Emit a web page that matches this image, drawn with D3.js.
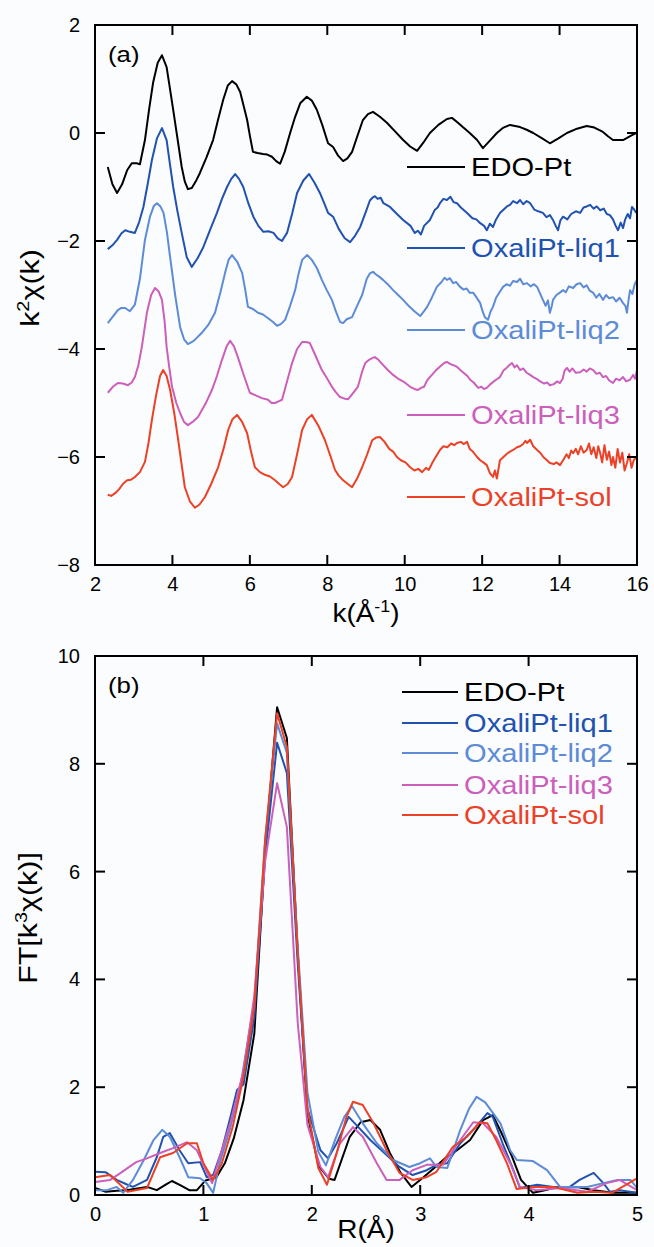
<!DOCTYPE html>
<html>
<head>
<meta charset="utf-8">
<script src="https://cdn.jsdelivr.net/npm/d3@7"></script>
<style>
  body { margin: 0; background: #fbfcfe; }
  svg { display: block; font-family: "Liberation Sans", Arial, sans-serif; }
</style>
</head>
<body>
<svg id="chart" width="654" height="1247"></svg>
<script>
// series names and colours
var names = ["EDO-Pt", "OxaliPt-liq1", "OxaliPt-liq2", "OxaliPt-liq3", "OxaliPt-sol"];
var colors = ["#000000", "#2152b0", "#5d8bd6", "#cc5fbb", "#ec4126"];

// panel (a): k (1/Å) and k^2 chi(k), offset curves
var exafsEdo = [[2.33,-0.63],[2.45,-0.95],[2.57,-1.11],[2.7,-0.95],[2.83,-0.69],[2.95,-0.56],[3.08,-0.56],[3.16,-0.58],[3.29,-0.13],[3.4,0.45],[3.5,0.93],[3.62,1.3],[3.73,1.44],[3.85,1.22],[3.93,0.85],[4.02,0.43],[4.13,-0.1],[4.24,-0.63],[4.32,-0.9],[4.4,-1.04],[4.5,-1.02],[4.6,-0.9],[4.71,-0.74],[4.88,-0.45],[5.05,-0.13],[5.18,0.25],[5.31,0.61],[5.43,0.88],[5.54,0.96],[5.65,0.9],[5.75,0.76],[5.84,0.5],[5.93,0.24],[6.0,-0.05],[6.08,-0.35],[6.2,-0.37],[6.34,-0.39],[6.45,-0.4],[6.57,-0.44],[6.68,-0.52],[6.78,-0.57],[6.9,-0.35],[7.04,0.0],[7.17,0.3],[7.3,0.55],[7.47,0.67],[7.6,0.6],[7.73,0.43],[7.87,0.15],[8.02,-0.19],[8.15,-0.26],[8.28,-0.42],[8.41,-0.52],[8.52,-0.47],[8.64,-0.35],[8.78,-0.05],[8.92,0.24],[9.05,0.35],[9.18,0.39],[9.36,0.3],[9.54,0.19],[9.75,0.03],[9.96,-0.13],[10.14,-0.25],[10.32,-0.33],[10.48,-0.18],[10.65,0.0],[10.87,0.15],[11.09,0.26],[11.22,0.28],[11.36,0.2],[11.5,0.11],[11.68,0.0],[11.87,-0.13],[12.02,-0.28],[12.2,-0.14],[12.38,0.0],[12.55,0.1],[12.72,0.15],[12.85,0.13],[12.98,0.11],[13.15,0.06],[13.32,0.0],[13.55,-0.1],[13.75,-0.19],[13.97,-0.1],[14.19,0.0],[14.45,0.08],[14.7,0.13],[14.9,0.1],[15.12,0.02],[15.25,-0.06],[15.38,-0.13],[15.64,-0.13],[15.87,-0.04],[15.98,0.0]];
var exafsLiq1 = [[2.33,-2.15],[2.45,-2.08],[2.57,-1.98],[2.68,-1.86],[2.78,-1.8],[2.9,-1.83],[3.03,-1.85],[3.14,-1.65],[3.25,-1.37],[3.36,-0.95],[3.47,-0.5],[3.6,-0.1],[3.73,0.09],[3.85,-0.13],[3.93,-0.55],[4.02,-1.0],[4.13,-1.45],[4.24,-1.85],[4.37,-2.3],[4.5,-2.48],[4.65,-2.32],[4.8,-2.11],[4.97,-1.8],[5.15,-1.48],[5.28,-1.22],[5.41,-1.0],[5.52,-0.85],[5.62,-0.76],[5.72,-0.85],[5.83,-1.0],[5.96,-1.3],[6.09,-1.55],[6.22,-1.72],[6.35,-1.83],[6.48,-1.82],[6.61,-1.85],[6.72,-1.95],[6.83,-2.0],[6.96,-1.85],[7.09,-1.5],[7.22,-1.11],[7.38,-0.88],[7.53,-0.76],[7.67,-0.92],[7.81,-1.11],[7.92,-1.3],[8.02,-1.48],[8.15,-1.55],[8.3,-1.78],[8.45,-1.95],[8.59,-2.02],[8.72,-1.9],[8.85,-1.74],[9.0,-1.45],[9.1,-1.25],[9.18,-1.19],[9.23,-1.17],[9.3,-1.22],[9.38,-1.2],[9.45,-1.3],[9.62,-1.37],[9.8,-1.5],[9.96,-1.61],[10.15,-1.72],[10.26,-1.85],[10.34,-1.81],[10.42,-1.88],[10.5,-1.72],[10.65,-1.61],[10.78,-1.42],[10.85,-1.38],[10.91,-1.3],[11.0,-1.22],[11.09,-1.24],[11.18,-1.18],[11.26,-1.28],[11.35,-1.3],[11.45,-1.38],[11.61,-1.48],[11.75,-1.58],[11.85,-1.6],[11.95,-1.67],[12.05,-1.72],[12.12,-1.8],[12.2,-1.68],[12.28,-1.74],[12.36,-1.6],[12.46,-1.48],[12.55,-1.42],[12.64,-1.36],[12.72,-1.33],[12.8,-1.26],[12.9,-1.3],[12.98,-1.24],[13.06,-1.32],[13.15,-1.26],[13.24,-1.3],[13.35,-1.42],[13.45,-1.45],[13.57,-1.48],[13.66,-1.56],[13.75,-1.52],[13.83,-1.61],[13.9,-1.72],[13.96,-1.8],[14.02,-1.62],[14.09,-1.55],[14.2,-1.6],[14.3,-1.5],[14.42,-1.45],[14.53,-1.48],[14.62,-1.38],[14.7,-1.36],[14.79,-1.33],[14.88,-1.4],[14.96,-1.36],[15.05,-1.43],[15.14,-1.4],[15.22,-1.5],[15.3,-1.52],[15.38,-1.6],[15.45,-1.72],[15.51,-1.8],[15.58,-1.66],[15.64,-1.76],[15.69,-1.61],[15.76,-1.5],[15.82,-1.58],[15.87,-1.37],[15.93,-1.42],[15.98,-1.48]];
var exafsLiq2 = [[2.33,-3.52],[2.46,-3.4],[2.59,-3.28],[2.68,-3.24],[2.78,-3.24],[2.9,-3.3],[3.03,-3.18],[3.16,-2.7],[3.29,-1.98],[3.42,-1.55],[3.52,-1.35],[3.6,-1.3],[3.69,-1.36],[3.77,-1.48],[3.86,-1.85],[3.94,-2.3],[4.07,-3.0],[4.2,-3.6],[4.3,-3.82],[4.4,-3.91],[4.55,-3.85],[4.76,-3.7],[4.93,-3.55],[5.1,-3.33],[5.24,-2.95],[5.36,-2.59],[5.45,-2.35],[5.54,-2.26],[5.67,-2.38],[5.8,-2.59],[5.88,-2.9],[5.95,-3.22],[6.08,-3.26],[6.21,-3.33],[6.34,-3.36],[6.47,-3.43],[6.6,-3.5],[6.7,-3.57],[6.8,-3.54],[6.91,-3.46],[7.04,-3.2],[7.17,-2.91],[7.26,-2.6],[7.35,-2.35],[7.48,-2.26],[7.6,-2.35],[7.73,-2.5],[7.86,-2.72],[7.98,-2.9],[8.12,-3.09],[8.22,-3.3],[8.33,-3.5],[8.41,-3.52],[8.5,-3.45],[8.64,-3.41],[8.77,-3.2],[8.9,-3.0],[9.02,-2.7],[9.1,-2.6],[9.18,-2.57],[9.26,-2.62],[9.34,-2.66],[9.44,-2.72],[9.56,-2.8],[9.7,-2.91],[9.83,-3.0],[9.96,-3.09],[10.1,-3.2],[10.25,-3.3],[10.4,-3.39],[10.5,-3.3],[10.58,-3.22],[10.7,-3.05],[10.83,-2.85],[10.95,-2.76],[11.03,-2.68],[11.09,-2.72],[11.17,-2.69],[11.25,-2.78],[11.33,-2.76],[11.43,-2.85],[11.52,-2.9],[11.6,-2.88],[11.68,-2.96],[11.77,-2.96],[11.86,-3.05],[11.95,-3.15],[12.01,-3.3],[12.07,-3.41],[12.15,-3.46],[12.22,-3.3],[12.28,-3.22],[12.36,-3.05],[12.45,-2.95],[12.54,-2.85],[12.63,-2.8],[12.72,-2.83],[12.8,-2.74],[12.9,-2.76],[12.98,-2.7],[13.06,-2.8],[13.16,-2.78],[13.25,-2.84],[13.34,-2.8],[13.42,-2.85],[13.5,-2.98],[13.57,-3.09],[13.64,-3.2],[13.7,-3.1],[13.75,-3.33],[13.8,-3.2],[13.83,-3.09],[13.92,-3.0],[14.0,-2.96],[14.09,-2.91],[14.16,-2.95],[14.24,-2.84],[14.35,-2.87],[14.44,-2.8],[14.53,-2.78],[14.62,-2.86],[14.7,-2.82],[14.78,-2.92],[14.87,-2.96],[14.95,-3.05],[15.03,-2.98],[15.12,-3.09],[15.2,-3.0],[15.28,-3.06],[15.38,-3.04],[15.46,-3.12],[15.55,-3.05],[15.64,-3.15],[15.7,-3.2],[15.74,-3.33],[15.78,-3.1],[15.82,-2.91],[15.88,-2.98],[15.94,-2.8],[16.0,-2.72]];
var exafsLiq3 = [[2.33,-4.81],[2.46,-4.7],[2.59,-4.63],[2.72,-4.64],[2.85,-4.67],[2.95,-4.62],[3.03,-4.52],[3.12,-4.3],[3.21,-3.96],[3.34,-3.33],[3.45,-3.0],[3.55,-2.87],[3.64,-2.93],[3.73,-3.09],[3.8,-3.5],[3.85,-3.96],[3.92,-4.35],[3.99,-4.7],[4.1,-5.0],[4.2,-5.19],[4.3,-5.35],[4.4,-5.41],[4.52,-5.35],[4.66,-5.26],[4.85,-5.02],[5.02,-4.76],[5.15,-4.5],[5.28,-4.2],[5.4,-3.95],[5.49,-3.85],[5.59,-3.95],[5.69,-4.15],[5.85,-4.5],[6.0,-4.81],[6.15,-4.86],[6.31,-4.91],[6.47,-4.94],[6.56,-5.0],[6.65,-5.0],[6.74,-4.97],[6.83,-4.94],[6.96,-4.6],[7.09,-4.26],[7.22,-4.0],[7.35,-3.87],[7.45,-3.87],[7.55,-3.89],[7.7,-4.13],[7.86,-4.39],[8.0,-4.55],[8.12,-4.7],[8.22,-4.8],[8.33,-4.89],[8.45,-4.92],[8.54,-4.93],[8.66,-4.82],[8.79,-4.7],[8.9,-4.42],[8.98,-4.26],[9.08,-4.2],[9.16,-4.17],[9.23,-4.15],[9.32,-4.2],[9.42,-4.28],[9.55,-4.38],[9.7,-4.48],[9.85,-4.56],[10.0,-4.62],[10.14,-4.7],[10.25,-4.74],[10.34,-4.76],[10.42,-4.72],[10.5,-4.7],[10.58,-4.58],[10.65,-4.52],[10.8,-4.4],[10.95,-4.3],[11.02,-4.26],[11.09,-4.24],[11.18,-4.28],[11.26,-4.3],[11.35,-4.33],[11.45,-4.4],[11.55,-4.46],[11.62,-4.5],[11.69,-4.57],[11.78,-4.62],[11.9,-4.72],[11.98,-4.7],[12.05,-4.74],[12.12,-4.72],[12.2,-4.66],[12.3,-4.6],[12.38,-4.56],[12.46,-4.52],[12.55,-4.4],[12.63,-4.35],[12.7,-4.3],[12.77,-4.26],[12.84,-4.34],[12.9,-4.3],[12.98,-4.39],[13.06,-4.36],[13.15,-4.44],[13.24,-4.48],[13.32,-4.52],[13.42,-4.56],[13.5,-4.6],[13.6,-4.64],[13.68,-4.62],[13.75,-4.67],[13.85,-4.65],[13.94,-4.6],[14.01,-4.63],[14.08,-4.55],[14.13,-4.4],[14.19,-4.35],[14.26,-4.42],[14.33,-4.36],[14.42,-4.44],[14.53,-4.43],[14.62,-4.38],[14.7,-4.42],[14.78,-4.36],[14.87,-4.39],[14.95,-4.46],[15.04,-4.44],[15.12,-4.52],[15.2,-4.5],[15.28,-4.58],[15.38,-4.63],[15.46,-4.55],[15.55,-4.58],[15.64,-4.52],[15.72,-4.6],[15.82,-4.57],[15.9,-4.48],[15.95,-4.55],[16.0,-4.39]];
var exafsSol = [[2.33,-6.7],[2.42,-6.72],[2.52,-6.67],[2.62,-6.6],[2.72,-6.5],[2.83,-6.43],[2.93,-6.42],[3.03,-6.37],[3.16,-6.28],[3.29,-6.09],[3.38,-5.75],[3.47,-5.31],[3.58,-4.85],[3.68,-4.5],[3.76,-4.39],[3.85,-4.5],[3.94,-4.76],[4.05,-5.2],[4.15,-5.69],[4.24,-6.15],[4.32,-6.56],[4.45,-6.82],[4.58,-6.94],[4.7,-6.88],[4.84,-6.74],[5.0,-6.5],[5.18,-6.19],[5.32,-5.85],[5.44,-5.5],[5.55,-5.3],[5.67,-5.22],[5.8,-5.35],[5.93,-5.56],[6.03,-5.9],[6.13,-6.19],[6.26,-6.28],[6.39,-6.33],[6.52,-6.36],[6.65,-6.43],[6.76,-6.5],[6.86,-6.56],[6.98,-6.5],[7.09,-6.37],[7.22,-5.95],[7.35,-5.5],[7.48,-5.3],[7.6,-5.22],[7.77,-5.42],[7.94,-5.69],[8.08,-5.98],[8.2,-6.24],[8.3,-6.35],[8.41,-6.43],[8.53,-6.5],[8.64,-6.56],[8.77,-6.4],[8.9,-6.19],[9.03,-5.95],[9.16,-5.69],[9.26,-5.64],[9.36,-5.63],[9.48,-5.72],[9.6,-5.85],[9.7,-5.9],[9.8,-6.0],[9.9,-6.06],[10.02,-6.1],[10.14,-6.19],[10.25,-6.25],[10.35,-6.22],[10.45,-6.28],[10.55,-6.2],[10.62,-6.24],[10.71,-6.11],[10.8,-6.0],[10.91,-5.87],[11.0,-5.8],[11.1,-5.82],[11.2,-5.75],[11.28,-5.78],[11.35,-5.74],[11.45,-5.72],[11.52,-5.76],[11.61,-5.72],[11.68,-5.85],[11.76,-5.9],[11.87,-6.0],[11.95,-6.06],[12.03,-6.1],[12.12,-6.15],[12.2,-6.3],[12.28,-6.37],[12.33,-6.25],[12.38,-6.4],[12.46,-6.06],[12.55,-6.0],[12.64,-5.94],[12.72,-5.9],[12.8,-5.87],[12.9,-5.82],[12.98,-5.8],[13.06,-5.76],[13.12,-5.7],[13.16,-5.74],[13.24,-5.68],[13.32,-5.8],[13.42,-5.87],[13.5,-5.92],[13.58,-6.0],[13.66,-6.05],[13.75,-6.11],[13.85,-6.13],[13.92,-6.1],[14.01,-6.15],[14.1,-6.05],[14.18,-5.95],[14.24,-6.02],[14.3,-5.88],[14.35,-5.93],[14.42,-5.85],[14.48,-5.95],[14.55,-5.8],[14.62,-5.92],[14.7,-5.87],[14.76,-5.75],[14.82,-5.95],[14.88,-5.82],[14.95,-6.02],[15.0,-5.8],[15.05,-5.93],[15.1,-6.1],[15.16,-5.78],[15.22,-6.05],[15.28,-5.9],[15.34,-6.15],[15.38,-6.0],[15.44,-6.2],[15.5,-5.85],[15.56,-6.1],[15.62,-5.92],[15.68,-6.25],[15.74,-6.11],[15.8,-5.95],[15.86,-6.2],[15.92,-6.05],[16.0,-6.0]];

// panel (b): R (Å) and FT magnitude
var ftEdo = [[0,0.13],[0.1,0.06],[0.2,0.08],[0.29,0.09],[0.39,0.12],[0.48,0.15],[0.57,0.09],[0.66,0.2],[0.71,0.26],[0.79,0.18],[0.87,0.09],[0.94,0.09],[1.02,0.27],[1.12,0.33],[1.2,0.6],[1.28,1.05],[1.37,1.76],[1.47,3.0],[1.57,6.4],[1.68,9.05],[1.77,8.48],[1.87,4.5],[1.96,1.5],[2.06,0.55],[2.16,0.3],[2.21,0.28],[2.35,1.08],[2.45,1.35],[2.54,1.39],[2.63,1.21],[2.72,0.78],[2.82,0.41],[2.92,0.15],[3.03,0.33],[3.14,0.52],[3.24,0.7],[3.34,0.83],[3.46,1.02],[3.58,1.39],[3.67,1.48],[3.75,1.15],[3.85,0.7],[3.93,0.28],[4.04,0.04],[4.13,0.08],[4.23,0.13],[4.33,0.14],[4.45,0.15],[4.6,0.09],[4.78,0.04],[5.0,0.04]];
var ftLiq1 = [[0,0.43],[0.1,0.42],[0.2,0.28],[0.29,0.2],[0.35,0.15],[0.48,0.28],[0.57,0.7],[0.63,1.08],[0.69,1.15],[0.78,0.83],[0.86,0.59],[0.97,0.61],[1.03,0.33],[1.09,0.37],[1.17,0.83],[1.25,1.45],[1.31,1.95],[1.37,2.05],[1.47,3.3],[1.57,6.3],[1.68,8.39],[1.77,7.83],[1.87,4.3],[1.96,1.6],[2.08,0.83],[2.15,0.68],[2.23,0.96],[2.34,1.45],[2.41,1.3],[2.54,1.02],[2.69,0.74],[2.81,0.52],[2.93,0.37],[3.06,0.46],[3.15,0.56],[3.25,0.59],[3.37,0.96],[3.49,1.21],[3.62,1.52],[3.67,1.45],[3.76,0.96],[3.86,0.46],[3.92,0.13],[4.08,0.19],[4.23,0.15],[4.38,0.15],[4.47,0.28],[4.6,0.41],[4.69,0.22],[4.75,0.06],[4.84,0.09],[5.0,0.04]];
var ftLiq2 = [[0,0.09],[0.11,0.09],[0.2,0.15],[0.26,0.04],[0.35,0.28],[0.45,0.65],[0.54,1.02],[0.62,1.21],[0.69,1.08],[0.78,0.7],[0.86,0.33],[0.97,0.31],[1.03,0.22],[1.09,0.04],[1.15,0.59],[1.25,1.26],[1.34,2.0],[1.47,3.6],[1.57,6.6],[1.68,8.75],[1.77,8.2],[1.87,4.6],[1.96,1.9],[2.06,0.8],[2.13,0.55],[2.22,1.05],[2.3,1.45],[2.37,1.65],[2.47,1.33],[2.6,0.96],[2.75,0.65],[2.9,0.52],[3.0,0.59],[3.09,0.68],[3.15,0.52],[3.25,0.5],[3.37,1.21],[3.45,1.6],[3.52,1.82],[3.6,1.72],[3.74,1.33],[3.83,0.83],[3.89,0.65],[4.04,0.63],[4.17,0.46],[4.29,0.15],[4.54,0.15],[4.69,0.22],[4.82,0.28],[4.94,0.28],[5.0,0.13]];
var ftLiq3 = [[0,0.24],[0.14,0.28],[0.23,0.4],[0.38,0.61],[0.48,0.68],[0.6,0.78],[0.72,0.87],[0.85,0.98],[0.94,0.83],[1.01,0.52],[1.08,0.22],[1.15,0.7],[1.25,1.35],[1.37,2.3],[1.47,3.7],[1.57,6.2],[1.68,7.64],[1.77,6.83],[1.87,3.2],[1.96,1.3],[2.08,0.52],[2.15,0.33],[2.26,0.96],[2.38,1.26],[2.47,1.08],[2.6,0.59],[2.69,0.28],[2.81,0.28],[2.93,0.46],[3.06,0.56],[3.21,0.56],[3.37,1.02],[3.49,1.35],[3.58,1.33],[3.7,1.08],[3.83,0.59],[3.92,0.15],[4.08,0.09],[4.29,0.13],[4.54,0.06],[4.72,0.22],[4.84,0.28],[5.0,0.09]];
var ftSol = [[0,0.33],[0.14,0.37],[0.3,0.06],[0.48,0.13],[0.6,0.7],[0.72,0.78],[0.85,0.96],[0.94,0.96],[1.0,0.59],[1.09,0.28],[1.17,0.59],[1.27,1.26],[1.37,2.2],[1.47,3.5],[1.57,6.6],[1.68,8.94],[1.77,8.31],[1.87,4.5],[1.96,1.6],[2.06,0.5],[2.14,0.19],[2.23,0.78],[2.32,1.45],[2.38,1.73],[2.47,1.67],[2.57,1.33],[2.69,0.83],[2.81,0.41],[2.93,0.28],[3.06,0.33],[3.15,0.43],[3.3,0.89],[3.43,1.08],[3.55,1.35],[3.62,1.33],[3.7,1.02],[3.8,0.59],[3.89,0.11],[4.04,0.15],[4.23,0.15],[4.45,0.04],[4.6,0.06],[4.77,0.04],[5.0,0.31]];

var kTicks = [2, 4, 6, 8, 10, 12, 14, 16];
var chiTicks = [-8, -6, -4, -2, 0, 2];
var rTicks = [0, 1, 2, 3, 4, 5];
var ftTicks = [0, 2, 4, 6, 8, 10];

var svg = d3.select("#chart");
var left = 95, right = 637;

function panel(opts) {
    var x = d3.scaleLinear().domain(opts.xDomain).range([left, right]);
    var y = d3.scaleLinear().domain(opts.yDomain).range([opts.bottom, opts.top]);
    var g = svg.append("g");

    var clipId = "clip" + opts.id;
    g.append("clipPath").attr("id", clipId)
        .append("rect")
        .attr("x", left).attr("y", opts.top)
        .attr("width", right - left).attr("height", opts.bottom - opts.top);

    // curves
    var line = d3.line()
        .x(function(d) { return x(d[0]); })
        .y(function(d) { return y(d[1]); });
    g.append("g").attr("clip-path", "url(#" + clipId + ")")
        .selectAll("path")
        .data(opts.series)
        .enter()
        .append("path")
        .attr("d", line)
        .attr("fill", "none")
        .attr("stroke", function(d, i) { return colors[i]; })
        .attr("stroke-width", 2)
        .attr("stroke-linejoin", "round");

    // axes with tick labels
    var ax = g.append("g");
    ax.append("g").attr("transform", "translate(0," + opts.bottom + ")")
        .call(d3.axisBottom(x).tickValues(opts.xTicks).tickSize(-10).tickPadding(12).tickFormat(d3.format("d")));
    ax.append("g").attr("transform", "translate(" + left + ",0)")
        .call(d3.axisLeft(y).tickValues(opts.yTicks).tickSize(-10).tickPadding(15).tickFormat(d3.format("d")));
    ax.selectAll(".domain").remove();
    ax.selectAll(".tick line").remove();
    ax.selectAll(".tick text")
        .attr("fill", "#000")
        .style("font-size", "20px")
        .style("font-family", "Liberation Sans, Arial, sans-serif");

    // inward tick marks on all four sides
    var tk = g.append("g").attr("stroke", "#000").attr("stroke-width", 2);
    tk.selectAll(".xb").data(opts.xTicks).enter().append("line")
        .attr("x1", x).attr("x2", x)
        .attr("y1", opts.bottom).attr("y2", opts.bottom - 10);
    tk.selectAll(".xt").data(opts.xTicks).enter().append("line")
        .attr("x1", x).attr("x2", x)
        .attr("y1", opts.top).attr("y2", opts.top + 10);
    tk.selectAll(".yl").data(opts.yTicks).enter().append("line")
        .attr("y1", y).attr("y2", y)
        .attr("x1", left).attr("x2", left + 10);
    tk.selectAll(".yr").data(opts.yTicks).enter().append("line")
        .attr("y1", y).attr("y2", y)
        .attr("x1", right).attr("x2", right - 10);

    g.append("rect")
        .attr("x", left).attr("y", opts.top)
        .attr("width", right - left).attr("height", opts.bottom - opts.top)
        .attr("fill", "none").attr("stroke", "#000").attr("stroke-width", 2);

    // panel tag
    g.append("text")
        .attr("transform", "translate(108," + (opts.top + 37) + ") scale(1.12,1)")
        .attr("font-size", 23)
        .text(opts.tag);

    // legend
    var leg = g.selectAll(".leg")
        .data(names)
        .enter()
        .append("g")
        .attr("transform", function(d, i) { return "translate(" + opts.legX + "," + opts.legY[i] + ")"; });
    leg.append("line")
        .attr("x1", 0).attr("x2", opts.legLen)
        .attr("stroke", function(d, i) { return colors[i]; })
        .attr("stroke-width", 2);
    leg.append("text")
        .attr("transform", "translate(" + (opts.legLen + 6) + ",9) scale(1.12,1)")
        .attr("font-size", 26)
        .attr("fill", function(d, i) { return colors[i]; })
        .text(function(d) { return d; });

    return g;
}

var ga = panel({
    id: "a", top: 25, bottom: 565,
    xDomain: [2, 16], yDomain: [-8, 2],
    xTicks: kTicks, yTicks: chiTicks,
    series: [exafsEdo, exafsLiq1, exafsLiq2, exafsLiq3, exafsSol],
    tag: "(a)", legX: 407, legLen: 58, legY: [167, 248, 330, 415, 497]
});

var gb = panel({
    id: "b", top: 656, bottom: 1195,
    xDomain: [0, 5], yDomain: [0, 10],
    xTicks: rTicks, yTicks: ftTicks,
    series: [ftEdo, ftLiq1, ftLiq2, ftLiq3, ftSol],
    tag: "(b)", legX: 402, legLen: 56, legY: [692, 723, 753, 785, 815]
});

// axis titles
var kt = ga.append("text")
    .attr("transform", "translate(366,622) scale(1.12,1)")
    .attr("text-anchor", "middle").attr("font-size", 25);
kt.append("tspan").text("k(Å");
kt.append("tspan").attr("dy", -10).attr("font-size", 16).text("-1");
kt.append("tspan").attr("dy", 10).text(")");

var yt = ga.append("text")
    .attr("transform", "translate(39,288) rotate(-90) scale(1.17,1)")
    .attr("text-anchor", "middle").attr("font-size", 26);
yt.append("tspan").text("k");
yt.append("tspan").attr("dy", -10).attr("font-size", 17).text("2");
yt.append("tspan").attr("dy", 10).text("χ(k)");

gb.append("text")
    .attr("transform", "translate(366,1238) scale(1.12,1)")
    .attr("text-anchor", "middle").attr("font-size", 25)
    .text("R(Å)");

var ft = gb.append("text")
    .attr("transform", "translate(37,918) rotate(-90) scale(1.17,1)")
    .attr("text-anchor", "middle").attr("font-size", 26);
ft.append("tspan").text("FT[k");
ft.append("tspan").attr("dy", -10).attr("font-size", 17).text("3");
ft.append("tspan").attr("dy", 10).text("χ(k)]");
</script>
</body>
</html>
